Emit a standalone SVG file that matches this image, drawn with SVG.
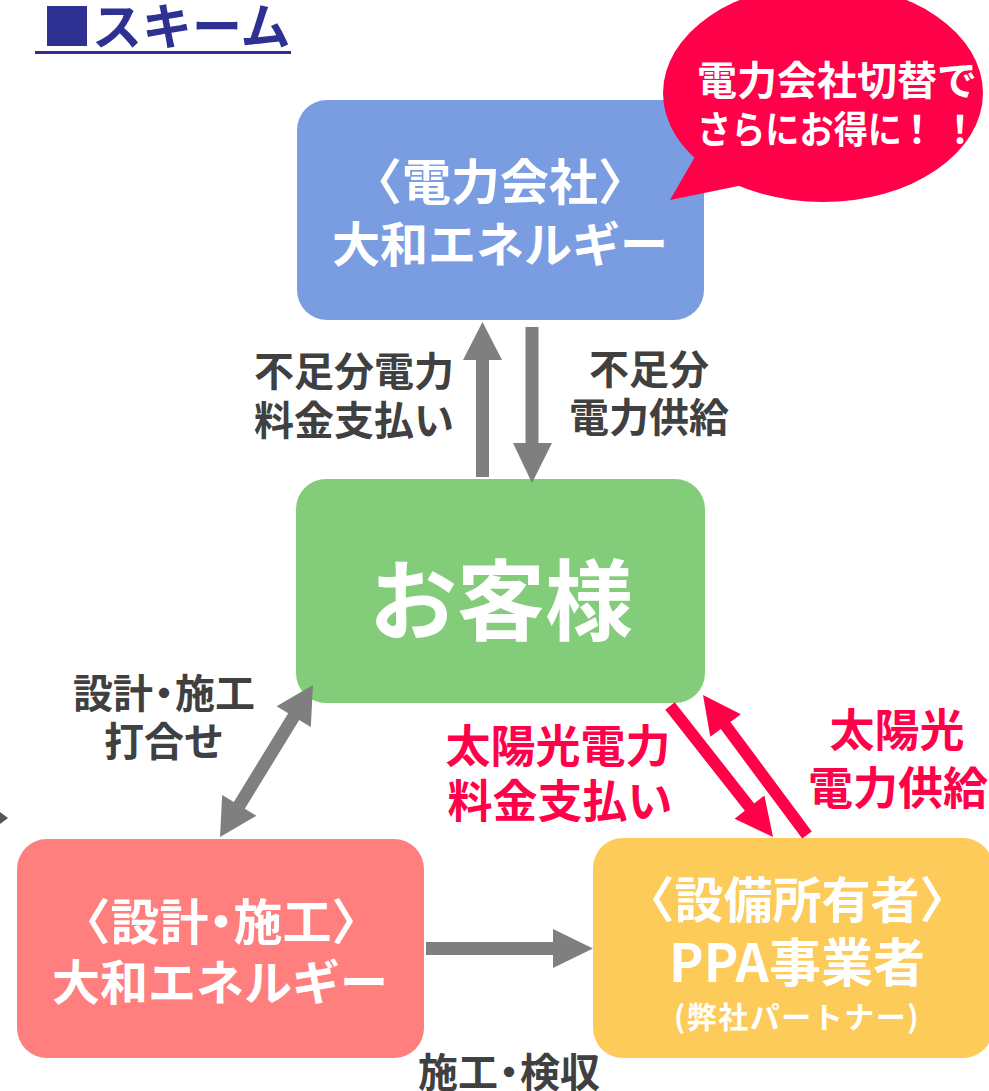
<svg xmlns="http://www.w3.org/2000/svg" width="989" height="1091" viewBox="0 0 989 1091">
<style>
text{font-family:"Noto Sans CJK JP","Noto Sans",sans-serif;font-weight:bold}
.w{fill:#ffffff;text-anchor:middle}
.g{fill:#404040;text-anchor:middle;font-size:40px}
.r{fill:#FF0049;text-anchor:middle;font-size:45px}
.ga{fill:#7F7F7F}
.ra{fill:#FF0049}
</style>
<rect width="989" height="1091" fill="#ffffff"/>
<g id="title">
<text x="42" y="45" font-size="50" fill="#2E3192">■スキーム</text>
<rect x="35" y="51" width="256" height="3" fill="#2E3192"/>
</g>
<g id="power-company">
<rect x="297" y="100" width="407" height="220" rx="30" fill="#7A9DE2"/>
<text class="w" x="500" y="200" font-size="49">〈電力会社〉</text>
<text class="w" x="500" y="262" font-size="48">大和エネルギー</text>
</g>
<g id="bubble">
<ellipse cx="823" cy="93" rx="160" ry="109" fill="#FF0049"/>
<polygon points="700,148 670,200 748,184" fill="#FF0049"/>
<text x="697" y="95" font-size="40" fill="#ffffff">電力会社切替で</text>
<text y="143" font-size="38" fill="#ffffff"><tspan x="697" textLength="205" lengthAdjust="spacingAndGlyphs">さらにお得に</tspan><tspan x="898">！</tspan><tspan x="941">！</tspan></text>
</g>
<g id="customer">
<rect x="296" y="479" width="409" height="224" rx="30" fill="#82CC7A"/>
<text class="w" x="501" y="633" font-size="88">お客様</text>
</g>
<g id="design">
<rect x="17" y="839" width="407" height="219" rx="30" fill="#FF7F7F"/>
<text class="w" x="221" y="940" font-size="49">〈設計<tspan dx="-12">・</tspan><tspan dx="-12">施工〉</tspan></text>
<text class="w" x="220" y="1000" font-size="48">大和エネルギー</text>
</g>
<g id="ppa">
<rect x="593" y="838" width="400" height="220" rx="30" fill="#FDCB5A"/>
<text class="w" x="797" y="918" font-size="49">〈設備所有者〉</text>
<text class="w" x="797" y="982" font-size="52">PPA事業者</text>
<text class="w" x="797" y="1028" font-size="30" letter-spacing="1.5">(弊社パートナー)</text>
</g>
<g id="connectors">
<polygon class="ga" points="476,477 476,360 463,360 482.5,322 502,360 489,360 489,477"/>
<polygon class="ga" points="525.5,327 538.5,327 538.5,443 552,443 532,483 513,443 525.5,443"/>
<polygon class="ga" points="313,685 310.8,727 299.2,720 244.8,808.8 256.4,815.8 220,837 222.2,795 233.8,802 288.2,713.2 276.6,706.2"/>
<polygon class="ga" points="426,942 553,942 553,929 593,948.5 553,968 553,955 426,955"/>
<polygon class="ra" points="674.7,702.3 754.2,803.4 764.4,795.4 773,837 734.6,818.8 744.8,810.8 665.3,709.7"/>
<polygon class="ra" points="811.8,831.4 730.4,721.9 740.9,714.2 703,695 710.3,736.8 720.8,729.1 802.2,838.6"/>
<polygon fill="#555555" points="0,812 8,818 0,824"/>
</g>
<g id="labels">
<text class="g" x="354" y="386">不足分電力</text>
<text class="g" x="354" y="435">料金支払い</text>
<text class="g" x="649" y="384">不足分</text>
<text class="g" x="649" y="432">電力供給</text>
<text class="g" x="164" y="708" font-size="38">設計<tspan dx="-9">・</tspan><tspan dx="-9">施工</tspan></text>
<text class="g" x="164" y="756" font-size="38">打合せ</text>
<text class="g" x="509" y="1087" font-size="38">施工<tspan dx="-9">・</tspan><tspan dx="-9">検収</tspan></text>
<text class="r" x="558" y="763">太陽光電力</text>
<text class="r" x="560" y="818">料金支払い</text>
<text class="r" x="897" y="747">太陽光</text>
<text class="r" x="898" y="805">電力供給</text>
</g>
</svg>
